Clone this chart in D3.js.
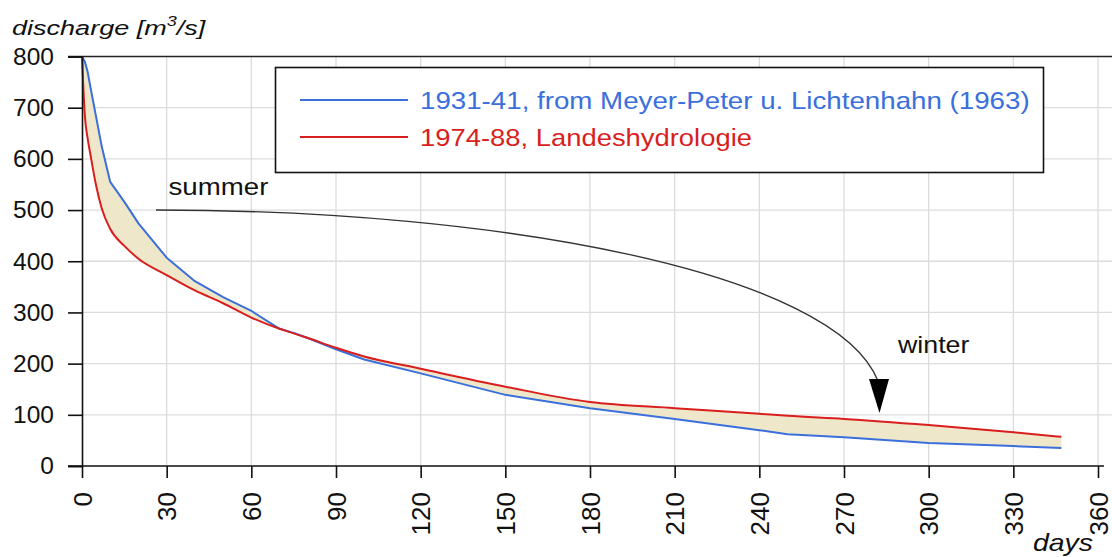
<!DOCTYPE html>
<html><head><meta charset="utf-8">
<script src="https://cdn.jsdelivr.net/npm/d3@7"></script>
<style>
html,body{margin:0;padding:0;background:#fff;}
svg{display:block;font-family:"Liberation Sans",Arial,sans-serif;}
</style></head>
<body>
<svg id="chart" width="1112" height="557"></svg>
<script>
const days  = [0, 1, 2, 3, 5, 7, 10, 15, 20, 30, 40, 50, 60, 70, 75, 80, 90, 100, 120, 150, 180, 210, 240, 250, 270, 300, 330, 347];
const q1931 = [800, 790, 770, 740, 682, 624, 555, 516, 474, 407, 361, 330, 303, 268, 260, 250, 228, 208, 181, 139, 113, 92, 70, 62, 56, 45, 39, 35];
const q1974 = [800, 685, 640, 608, 548, 503, 463, 430, 405, 373, 343, 318, 290, 268, 259, 250, 231, 214, 190, 155, 125, 113, 102, 98, 92, 80, 66, 57];
const xTicks = [0, 30, 60, 90, 120, 150, 180, 210, 240, 270, 300, 330, 360];
const yTicks = [0, 100, 200, 300, 400, 500, 600, 700, 800];
const seriesNames = ["1931-41, from Meyer-Peter u. Lichtenhahn (1963)", "1974-88, Landeshydrologie"];
const seriesColors = ["#3a6fdc", "#d91e1e"];

const svg = d3.select("#chart");
const x = d3.scaleLinear([0, 360], [82, 1098]);
const y = d3.scaleLinear([0, 800], [466, 56.5]);

function fitWidth(sel, x0, target) {
  const w = sel.node().getBBox().width;
  const s = target / w;
  sel.attr("transform", `translate(${x0},0) scale(${s},1) translate(${-x0},0)`);
}

// grid
const grid = svg.append("g").attr("stroke", "#dcdcdc").attr("stroke-width", 1.3);
grid.selectAll("line.v").data(xTicks.filter(d => d > 0)).join("line")
  .attr("x1", d => x(d)).attr("x2", d => x(d)).attr("y1", y(800)).attr("y2", y(0));
grid.selectAll("line.h").data(yTicks.filter(d => d > 0 && d < 800)).join("line")
  .attr("x1", x(0)).attr("x2", 1112).attr("y1", d => y(d)).attr("y2", d => y(d));

const data = days.map((d, i) => ({d, b: q1931[i], r: q1974[i]}));

// band between
svg.append("path").datum(data)
  .attr("fill", "#efe7c9")
  .attr("d", d3.area().x(p => x(p.d)).y0(p => y(p.r)).y1(p => y(p.b)));

// lines
svg.append("path").datum(data).attr("fill", "none").attr("stroke", seriesColors[0]).attr("stroke-width", 2)
  .attr("stroke-linejoin", "round")
  .attr("d", d3.line().x(p => x(p.d)).y(p => y(p.b)));
svg.append("path").datum(data).attr("fill", "none").attr("stroke", seriesColors[1]).attr("stroke-width", 2)
  .attr("stroke-linejoin", "round")
  .attr("d", d3.line().curve(d3.curveMonotoneX).x(p => x(p.d)).y(p => y(p.r)));

// top border
svg.append("line").attr("x1", 68).attr("x2", 1112).attr("y1", y(800)).attr("y2", y(800))
  .attr("stroke", "#222").attr("stroke-width", 1.6);

// axes
const yAxis = svg.append("g").attr("transform", `translate(${x(0)},0)`)
  .call(d3.axisLeft(y).tickValues(yTicks).tickSize(14).tickPadding(14));
yAxis.select(".domain").attr("stroke", "#111").attr("stroke-width", 1.6);
yAxis.selectAll(".tick line").attr("stroke", "#111").attr("stroke-width", 1.6);
yAxis.selectAll(".tick text").attr("font-size", 24.5).attr("fill", "#111").attr("font-family", "Liberation Sans, Arial, sans-serif");

const xAxis = svg.append("g").attr("transform", `translate(0,${y(0)})`)
  .call(d3.axisBottom(x).tickValues(xTicks).tickSize(12).tickSizeOuter(0));
xAxis.select(".domain").attr("stroke", "#111").attr("stroke-width", 1.6).attr("d", `M68,0H${x(360)+6}`);
xAxis.selectAll(".tick line").attr("stroke", "#111").attr("stroke-width", 1.6);
xAxis.selectAll(".tick text").attr("font-size", 26).attr("fill", "#111")
  .attr("font-family", "Liberation Sans, Arial, sans-serif")
  .attr("text-anchor", "end").attr("transform", "rotate(-90)")
  .attr("x", -26).attr("y", 0).attr("dy", "0.35em");

// axis titles
const yt = svg.append("text").attr("x", 12).attr("y", 35).attr("font-size", 21).attr("font-style", "italic").attr("fill", "#111");
yt.append("tspan").text("discharge [m");
yt.append("tspan").attr("font-size", 14).attr("dy", -9).text("3");
yt.append("tspan").attr("dy", 9).text("/s]");
fitWidth(yt, 12, 195);
const dt = svg.append("text").attr("x", 1033).attr("y", 551).attr("font-size", 24)
  .attr("font-style", "italic").attr("fill", "#111").text("days");
fitWidth(dt, 1033, 60);

// annotation arrow
svg.append("path").attr("d", "M156,210 C500,210 835,272 878,381")
  .attr("fill", "none").attr("stroke", "#333").attr("stroke-width", 1.4);
svg.append("path").attr("d", "M869,379 L889,379 L879.5,413 Z").attr("fill", "#000");
const st = svg.append("text").attr("x", 168.5).attr("y", 195).attr("font-size", 24).attr("fill", "#111").text("summer");
fitWidth(st, 168.5, 100);
const wt = svg.append("text").attr("x", 898).attr("y", 353).attr("font-size", 23).attr("fill", "#111").text("winter");
fitWidth(wt, 898, 73);

// legend
const lg = svg.append("g");
lg.append("rect").attr("x", 275.5).attr("y", 67.5).attr("width", 768).attr("height", 105)
  .attr("fill", "#fff").attr("stroke", "#111").attr("stroke-width", 1.6);
const legendWidths = [610, 332];
seriesNames.forEach((n, i) => {
  const yy = 100 + i * 37;
  lg.append("line").attr("x1", 300).attr("x2", 408).attr("y1", yy).attr("y2", yy)
    .attr("stroke", seriesColors[i]).attr("stroke-width", 2.2);
  const t = lg.append("text").attr("x", 420).attr("y", yy + 9).attr("font-size", 24)
    .attr("fill", seriesColors[i]).text(n);
  fitWidth(t, 420, legendWidths[i]);
});
</script>
</body></html>
